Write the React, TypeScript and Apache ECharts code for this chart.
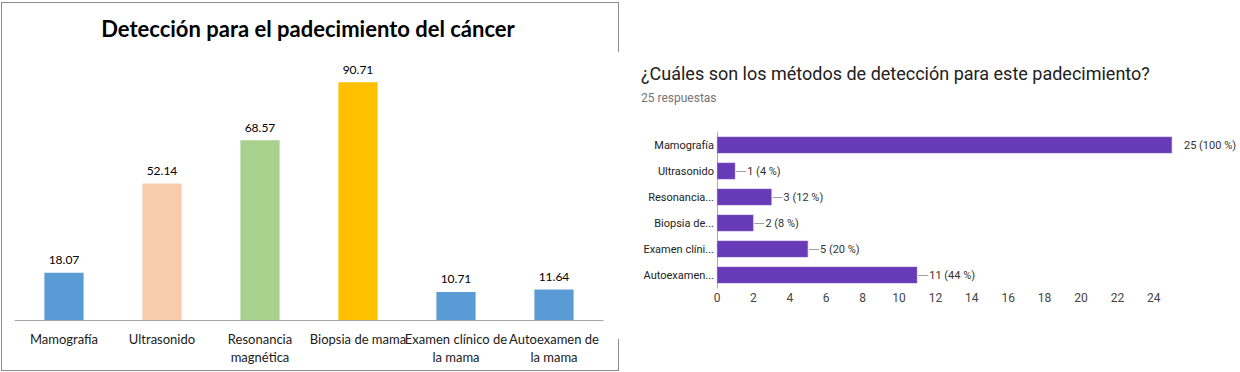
import React, { useEffect, useRef } from "react";
import * as echarts from "echarts";

// Left chart (Excel-style)
const leftTitle = "Detección para el padecimiento del cáncer";
const leftCategories = [
  "Mamografía",
  "Ultrasonido",
  "Resonancia\nmagnética",
  "Biopsia de mama",
  "Examen clínico de\nla mama",
  "Autoexamen de\nla mama",
];
const leftValues = [18.07, 52.14, 68.57, 90.71, 10.71, 11.64];
const leftColors = ["#5B9BD5", "#F8CBAD", "#A9D18E", "#FFC000", "#5B9BD5", "#5B9BD5"];

// Right chart (Google Forms-style)
const rightTitle = "¿Cuáles son los métodos de detección para este padecimiento?";
const rightSubtitle = "25 respuestas";
const rightCategories = [
  "Mamografía",
  "Ultrasonido",
  "Resonancia...",
  "Biopsia de...",
  "Examen clíni...",
  "Autoexamen...",
];
const rightValues = [25, 1, 3, 2, 5, 11];
const rightPercents = [100, 4, 12, 8, 20, 44];
const rightAxisMax = 26;

export default function App() {
  const ref = useRef<HTMLDivElement>(null);

  useEffect(() => {
    document.body.style.margin = "0";
    if (!ref.current) return;
    const chart = echarts.init(ref.current, undefined, { renderer: "svg" });

    const leaderData = rightValues
      .map((v, i) => [v, i])
      .filter((d) => d[0] < 25);

    chart.setOption({
      animation: false,
      backgroundColor: "#ffffff",
      graphic: [
        // left chart border
        { type: "line", shape: { x1: 1, y1: 2.5, x2: 618.5, y2: 2.5 }, style: { stroke: "#8c8c8c", lineWidth: 1 } },
        { type: "line", shape: { x1: 1.5, y1: 2, x2: 1.5, y2: 370 }, style: { stroke: "#8c8c8c", lineWidth: 1 } },
        { type: "line", shape: { x1: 1, y1: 370.5, x2: 618.5, y2: 370.5 }, style: { stroke: "#8c8c8c", lineWidth: 1 } },
        { type: "line", shape: { x1: 618.5, y1: 2, x2: 618.5, y2: 52 }, style: { stroke: "#8c8c8c", lineWidth: 1 } },
        { type: "line", shape: { x1: 618.5, y1: 339, x2: 618.5, y2: 371 }, style: { stroke: "#8c8c8c", lineWidth: 1 } },
        {
          type: "text",
          x: 308,
          y: 28,
          style: {
            text: leftTitle,
            fontFamily: "Lato",
            fontWeight: "bold",
            fontSize: 22,
            fill: "#000000",
            textAlign: "center",
            textVerticalAlign: "middle",
          },
        },
        {
          type: "text",
          x: 641,
          y: 73,
          style: {
            text: rightTitle,
            fontFamily: "Roboto",
            fontSize: 18,
            fill: "#212121",
            textAlign: "left",
            textVerticalAlign: "middle",
          },
        },
        {
          type: "text",
          x: 641,
          y: 98,
          style: {
            text: rightSubtitle,
            fontFamily: "Roboto",
            fontSize: 12,
            fill: "#757575",
            textAlign: "left",
            textVerticalAlign: "middle",
          },
        },
      ],
      grid: [
        { left: 15, right: 637, top: 58, bottom: 52, containLabel: false },
        { left: 717, width: rightAxisMax * 18.2, top: 132, height: 156, containLabel: false },
      ],
      xAxis: [
        {
          type: "category",
          gridIndex: 0,
          data: leftCategories,
          axisTick: { show: false },
          axisLine: { show: true, lineStyle: { color: "#a6a6a6", width: 1 } },
          axisLabel: {
            interval: 0,
            margin: 10,
            fontFamily: "Lato",
            fontSize: 13,
            lineHeight: 18,
            color: "#1a1a1a",
          },
        },
        {
          type: "value",
          gridIndex: 1,
          min: 0,
          max: rightAxisMax,
          interval: 2,
          axisLine: { show: false },
          axisTick: { show: false },
          splitLine: { show: false },
          axisLabel: {
            showMaxLabel: false,
            margin: 4,
            fontFamily: "Roboto",
            fontSize: 12,
            color: "#444444",
          },
        },
      ],
      yAxis: [
        {
          type: "value",
          gridIndex: 0,
          min: 0,
          max: 100,
          show: false,
        },
        {
          type: "category",
          gridIndex: 1,
          data: rightCategories,
          inverse: true,
          axisTick: { show: false },
          axisLine: { show: true, lineStyle: { color: "#aaaaaa", width: 1 } },
          axisLabel: {
            margin: 3,
            fontFamily: "Roboto",
            fontSize: 11,
            color: "#222222",
          },
        },
      ],
      series: [
        {
          type: "bar",
          xAxisIndex: 0,
          yAxisIndex: 0,
          barCategoryGap: "60%",
          data: leftValues.map((v, i) => ({ value: v, itemStyle: { color: leftColors[i] } })),
          label: {
            show: true,
            position: "top",
            distance: 7,
            fontFamily: "Lato",
            fontSize: 12,
            color: "#000000",
            formatter: (p: any) => p.value.toFixed(2),
          },
        },
        {
          type: "bar",
          xAxisIndex: 1,
          yAxisIndex: 1,
          barCategoryGap: "36%",
          data: rightValues,
          itemStyle: { color: "#673AB7", borderColor: "#8e6cc9", borderWidth: 0.5 },
          label: {
            show: true,
            position: "right",
            distance: 12,
            fontFamily: "Roboto",
            fontSize: 11,
            color: "#333333",
            formatter: (p: any) => `${p.value} (${rightPercents[p.dataIndex]} %)`,
          },
        },
        {
          type: "custom",
          xAxisIndex: 1,
          yAxisIndex: 1,
          data: leaderData,
          encode: { x: 0, y: 1 },
          silent: true,
          renderItem: (params: any, api: any) => {
            const c = api.coord([api.value(0), api.value(1)]);
            return {
              type: "line",
              shape: { x1: c[0] + 1, y1: c[1] + 0.5, x2: c[0] + 11, y2: c[1] + 0.5 },
              style: { stroke: "#9e9e9e", lineWidth: 1 },
            };
          },
        },
      ],
    });

    return () => chart.dispose();
  }, []);

  return <div ref={ref} style={{ width: 1240, height: 372 }} />;
}
